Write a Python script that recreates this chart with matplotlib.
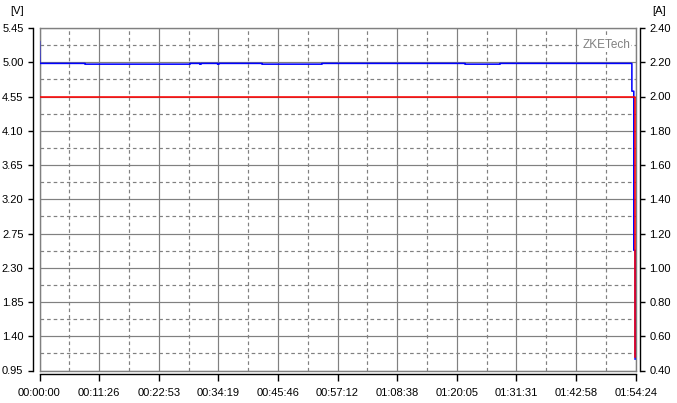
import matplotlib
matplotlib.use("Agg")
import matplotlib.pyplot as plt

plt.rcParams['font.family'] = ['Liberation Sans', 'DejaVu Sans']
plt.rcParams['font.size'] = 8

# time in seconds
t_end = 6864
x_labels = ['00:00:00', '00:11:26', '00:22:53', '00:34:19', '00:45:46', '00:57:12',
            '01:08:38', '01:20:05', '01:31:31', '01:42:58', '01:54:24']
v_ticks = [0.95, 1.40, 1.85, 2.30, 2.75, 3.20, 3.65, 4.10, 4.55, 5.00, 5.45]
a_ticks = [0.40, 0.60, 0.80, 1.00, 1.20, 1.40, 1.60, 1.80, 2.00, 2.20, 2.40]

# voltage (blue), step points
v_time = [0, 3, 524, 524, 1733, 1733, 1845, 1845, 1860, 1860, 2050, 2050, 2065, 2065,
          2562, 2562, 3252, 3252, 4899, 4899, 5302, 5302, 6820, 6820, 6842, 6842, 6857, 6857]
v_vals = [5.27, 4.985, 4.985, 4.975, 4.975, 4.985, 4.985, 4.975, 4.975, 4.985, 4.985, 4.975,
          4.975, 4.985, 4.985, 4.975, 4.975, 4.985, 4.985, 4.975, 4.975, 4.985, 4.985, 4.62,
          4.62, 2.53, 2.53, 1.10]

# current (red)
i_time = [0, 6857, 6857]
i_vals = [2.00, 2.00, 0.48]

W, H = 677, 403
PX = 72 / 100  # points per pixel
fig = plt.figure(figsize=(W / 100, H / 100), dpi=100)
x0, x1, y0, y1 = 39.5, 635.7, 28, 370.5
ax = fig.add_axes([x0 / W, 1 - y1 / H, (x1 - x0) / W, (y1 - y0) / H])
ax2 = ax.twinx()

grid_col = '#808080'
ax.set_xlim(0, t_end)
ax.set_ylim(0.95, 5.45)
ax2.set_ylim(0.40, 2.40)

ax.set_xticks([t_end * k / 10 for k in range(11)])
ax.set_xticks([t_end * (2 * k + 1) / 20 for k in range(10)], minor=True)
ax.set_xticklabels(x_labels)
ax.set_yticks(v_ticks)
ax.set_yticks([v + 0.225 for v in v_ticks[:-1]], minor=True)
ax.set_yticklabels(['%.2f' % v for v in v_ticks])
ax2.set_yticks(a_ticks)
ax2.set_yticklabels(['%.2f' % a for a in a_ticks])

ax.grid(which='major', color=grid_col, lw=1 * PX * 1.2, ls='-')
ax.grid(which='minor', color=grid_col, lw=1 * PX * 1.2, ls=(0, (3, 2.5)))
ax.set_axisbelow(True)

for a in (ax, ax2):
    for s in a.spines.values():
        s.set_visible(False)
# gray frame round the plot area
ax.axhline(5.45, color=grid_col, lw=1, clip_on=False)
ax.axhline(0.95, color=grid_col, lw=1, clip_on=False)
ax.axvline(0, color=grid_col, lw=1, clip_on=False)
ax.axvline(t_end, color=grid_col, lw=1, clip_on=False)

ax.spines['left'].set_visible(True)
ax.spines['left'].set_position(('outward', 6.5 * PX))
ax.spines['bottom'].set_visible(True)
ax.spines['bottom'].set_position(('outward', 3.5 * PX))
ax2.spines['right'].set_visible(True)
ax2.spines['right'].set_position(('outward', 4 * PX))
for s in (ax.spines['left'], ax.spines['bottom'], ax2.spines['right']):
    s.set_linewidth(1.4 * PX)

ax.tick_params(which='major', length=5 * PX, width=1.4 * PX, color='black', pad=4.5 * PX, labelsize=8)
ax.tick_params(axis='x', which='major', length=6.5 * PX, pad=7 * PX)
ax.tick_params(which='minor', length=0)
ax2.tick_params(which='major', length=5 * PX, width=1.4 * PX, color='black', pad=4.5 * PX, labelsize=8)
ax2.tick_params(which='minor', length=0)

ax2.plot(i_time, i_vals, color='#ff0000', lw=1.3 * PX * 1.2, zorder=3)
ax2.plot(v_time, [0.4 + (v - 0.95) / 4.5 * 2.0 for v in v_vals], color='#0000ff',
         lw=1.3 * PX * 1.2, zorder=2)

ax.text(t_end * 0.991, 0.95 + 4.5 * 0.95, 'ZKETech', color=grid_col, fontsize=8.5,
        ha='right', va='center', bbox=dict(facecolor='white', edgecolor='none', pad=0.8))

fig.text(17.5 / W, 1 - 11 / H, '[V]', ha='center', va='center', fontsize=8)
fig.text(659 / W, 1 - 11 / H, '[A]', ha='center', va='center', fontsize=8)

fig.savefig('out.png', dpi=100)
